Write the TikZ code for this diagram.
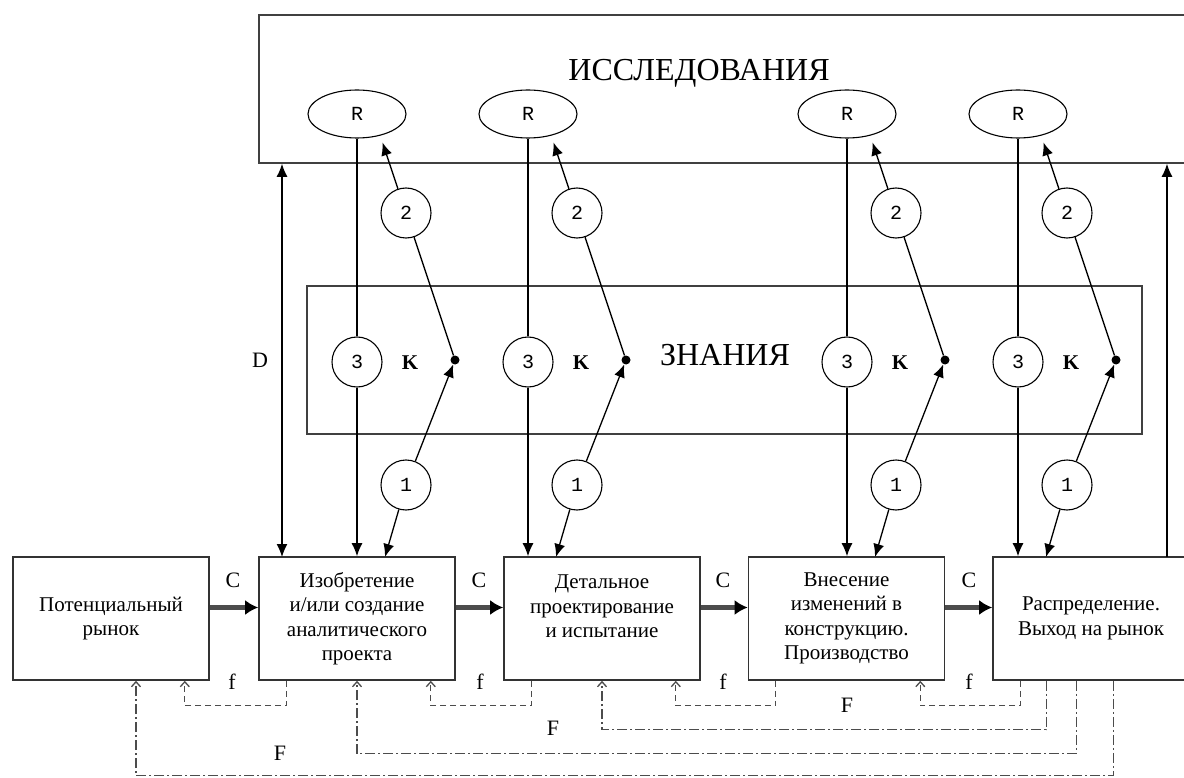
\documentclass[tikz,border=0pt]{standalone}
\usepackage{fontspec}
\setmainfont{Liberation Serif}
\newfontfamily\numfont{Liberation Mono}
\usepackage{tikz}
\usetikzlibrary{shapes,arrows.meta,positioning,calc}

\begin{document}
\begin{tikzpicture}[
			x=1pt, y=-1pt,
			stage/.style={rectangle, draw=black!80, line width=1.6pt, minimum width=196pt, minimum height=123pt, align=center, font=\fontsize{21}{24.5}\selectfont},
			area/.style={rectangle, draw=black!75, line width=1.6pt},
			head/.style={font=\fontsize{32}{35}\selectfont},
			res/.style={ellipse, draw, line width=1.1pt, minimum width=98pt, minimum height=48pt, inner sep=0pt, font=\numfont\fontsize{20}{22}\selectfont},
			num/.style={circle, draw, line width=1.1pt, minimum size=50pt, inner sep=0pt, font=\numfont\fontsize{20}{22}\selectfont},
			knot/.style={circle, fill, inner sep=0pt, minimum size=9pt},
			lbl/.style={font=\fontsize{22}{24}\selectfont},
			klbl/.style={font=\bfseries\fontsize{21}{24}\selectfont},
			arrow/.style={-{Latex[length=13pt,width=11pt]}, line width=1.3pt},
			darrow/.style={{Latex[length=13pt,width=11pt]}-{Latex[length=13pt,width=11pt]}, line width=1.3pt},
			link/.style={line width=1.3pt},
			flow/.style={-{Latex[length=13pt,width=15pt,black]}, line width=5.5pt, draw=gray!60!black},
			fback/.style={-{Straight Barb[length=5pt,width=9pt]}, line width=1.3pt, draw=black!70, dash pattern=on 6pt off 4pt},
			Fback/.style={-{Straight Barb[length=5pt,width=9pt]}, line width=1.3pt, draw=black!70, dash pattern=on 10pt off 3pt on 2pt off 3pt}
			]
			\useasboundingbox (0,0) rectangle (1184,778);
			
			% Research area (runs off the right edge)
			\node[area, minimum width=930pt, minimum height=148pt] (research) at (724,89) {};
			\node[head] (restitle) at (699,73) {ИССЛЕДОВАНИЯ};
			
			% Knowledge area
			\node[area, minimum width=835pt, minimum height=148pt] (knowledge) at (724.5,360) {};
			\node[head] (knowtitle) at (725,355) {ЗНАНИЯ};
			
			% Research ellipses
			\node[res] (rA) at (357,114) {R};
			\node[res] (rB) at (528,114) {R};
			\node[res] (rC) at (847,114) {R};
			\node[res] (rD) at (1018,114) {R};
			
			% Numbered circles, K labels and knots
			\node[num] (twoA) at (406,213) {2};
			\node[num] (threeA) at (357,362) {3};
			\node[num] (oneA) at (406,485) {1};
			\node[klbl] (kA) at (410,363) {K};
			\node[knot] (dotA) at (455,360) {};
			
			\node[num] (twoB) at (577,213) {2};
			\node[num] (threeB) at (528,362) {3};
			\node[num] (oneB) at (577,485) {1};
			\node[klbl] (kB) at (581,363) {K};
			\node[knot] (dotB) at (626,360) {};
			
			\node[num] (twoC) at (896,213) {2};
			\node[num] (threeC) at (847,362) {3};
			\node[num] (oneC) at (896,485) {1};
			\node[klbl] (kC) at (900,363) {K};
			\node[knot] (dotC) at (945,360) {};
			
			\node[num] (twoD) at (1067,213) {2};
			\node[num] (threeD) at (1018,362) {3};
			\node[num] (oneD) at (1067,485) {1};
			\node[klbl] (kD) at (1071,363) {K};
			\node[knot] (dotD) at (1116,360) {};
			
			% Stages of the chain
			\node[stage] (market) at (111,618.5) {Потенциальный\\рынок};
			\node[stage] (invent) at (357,618.5) {Изобретение\\и/или создание\\аналитического\\проекта};
			\node[stage] (design) at (602,618.5) {Детальное\\проектирование\\и испытание\\\mbox{}};
			\node[stage] (prod) at (846.5,618.5) {Внесение\\изменений в\\конструкцию.\\Производство};
			\node[stage] (distrib) at (1091,618.5) {Распределение.\\Выход на рынок};
			
			% Free ends of the connectors
			\coordinate (tipA) at ($(dotA)!1.48!(twoA)$);
			\coordinate (tipB) at ($(dotB)!1.48!(twoB)$);
			\coordinate (tipC) at ($(dotC)!1.48!(twoC)$);
			\coordinate (tipD) at ($(dotD)!1.48!(twoD)$);
			\coordinate (inA) at (385,557);
			\coordinate (inB) at (556,557);
			\coordinate (inC) at (875,557);
			\coordinate (inD) at (1046,557);
			\coordinate (dlow) at (282,557);
			\coordinate (back) at (1167,557);
			
			% Research -> 3 -> stage
			\draw[link] (rA) -- (threeA);
			\draw[arrow] (threeA) -- (threeA |- invent.north);
			\draw[link] (rB) -- (threeB);
			\draw[arrow] (threeB) -- (threeB |- design.north);
			\draw[link] (rC) -- (threeC);
			\draw[arrow] (threeC) -- (threeC |- prod.north);
			\draw[link] (rD) -- (threeD);
			\draw[arrow] (threeD) -- (threeD |- distrib.north);
			
			% Stage <- 1 -> knot -> 2 -> research
			\draw[arrow] (oneA) -- (inA); \draw[arrow] (oneA) -- (dotA);
			\draw[link] (dotA) -- (twoA); \draw[arrow] (twoA) -- (tipA);
			\draw[arrow] (oneB) -- (inB); \draw[arrow] (oneB) -- (dotB);
			\draw[link] (dotB) -- (twoB); \draw[arrow] (twoB) -- (tipB);
			\draw[arrow] (oneC) -- (inC); \draw[arrow] (oneC) -- (dotC);
			\draw[link] (dotC) -- (twoC); \draw[arrow] (twoC) -- (tipC);
			\draw[arrow] (oneD) -- (inD); \draw[arrow] (oneD) -- (dotD);
			\draw[link] (dotD) -- (twoD); \draw[arrow] (twoD) -- (tipD);
			
			% D link and the return to research
			\draw[darrow] (dlow) -- (dlow |- research.south);
			\node[lbl] (dlabel) at (260,360) {D};
			\draw[arrow] (back) -- (back |- research.south);
			
			% Central chain C
			\draw[flow] ([yshift=11pt]market.east) -- ([yshift=11pt]invent.west);
			\draw[flow] ([yshift=11pt]invent.east) -- ([yshift=11pt]design.west);
			\draw[flow] ([yshift=11pt]design.east) -- ([yshift=11pt]prod.west);
			\draw[flow] ([yshift=11pt]prod.east) -- ([yshift=11pt]distrib.west);
			\node[lbl] (cA) at (233,580) {C};
			\node[lbl] (cB) at (479,580) {C};
			\node[lbl] (cC) at (723,580) {C};
			\node[lbl] (cD) at (969,580) {C};
			
			% Short feedback loops f
			\draw[fback] ([xshift=28pt]invent.south west) -- ++(0,25) -| ([xshift=-25pt]market.south east);
			\draw[fback] ([xshift=28pt]design.south west) -- ++(0,25) -| ([xshift=-25pt]invent.south east);
			\draw[fback] ([xshift=28pt]prod.south west) -- ++(0,25) -| ([xshift=-25pt]design.south east);
			\draw[fback] ([xshift=28pt]distrib.south west) -- ++(0,25) -| ([xshift=-25pt]prod.south east);
			\node[lbl] (fA) at (232,682) {f};
			\node[lbl] (fB) at (480,682) {f};
			\node[lbl] (fC) at (723,682) {f};
			\node[lbl] (fD) at (969,682) {f};
			
			% Long feedback loops F
			\draw[Fback] ([xshift=54pt]distrib.south west) -- ++(0,49) -| (design.south);
			\draw[Fback] ([xshift=84pt]distrib.south west) -- ++(0,73) -| (invent.south);
			\draw[Fback] ([xshift=121pt]distrib.south west) -- ++(0,95) -| ([xshift=25pt]market.south);
			\node[lbl] (FA) at (847,705) {F};
			\node[lbl] (FB) at (553,728) {F};
			\node[lbl] (FC) at (280,753) {F};
			
		\end{tikzpicture}
\end{document}
